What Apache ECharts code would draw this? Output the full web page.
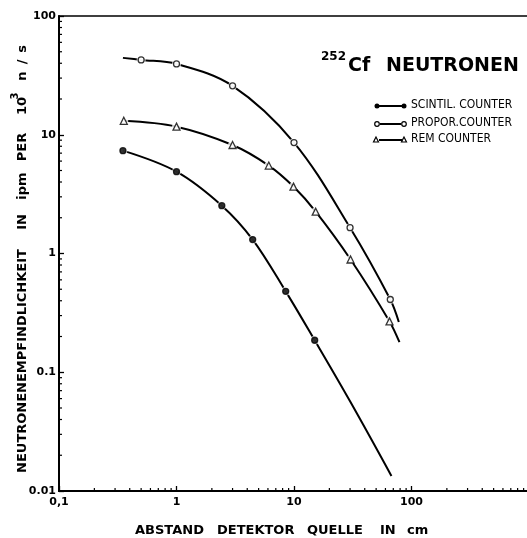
<!DOCTYPE html>
<html>
<head>
<meta charset="utf-8">
<script src="https://cdn.jsdelivr.net/npm/echarts@6/dist/echarts.min.js"></script>
<style>html,body{margin:0;padding:0;background:#fff;}#c{width:527px;height:538px;}</style>
</head>
<body>
<div id="c"></div>
<script>
// ---- data ----
const scintX = [0.35, 1.0, 2.43, 4.45, 8.5, 15.0, 30, 67.5];
const scintY = [7.35, 4.89, 2.53, 1.31, 0.48, 0.186, 0.057, 0.0134];
const scintMarked = [0, 1, 2, 3, 4, 5];

const proporX = [0.35, 0.5, 1.0, 3.0, 10, 30, 66, 78];
const proporY = [44.4, 42.7, 39.5, 25.8, 8.6, 1.65, 0.41, 0.265];
const proporMarked = [1, 2, 3, 4, 5, 6];

const remX = [0.356, 1.0, 3.0, 6.1, 9.9, 15.3, 30.3, 65, 79];
const remY = [13.1, 11.7, 8.2, 5.5, 3.66, 2.25, 0.89, 0.268, 0.179];
const remMarked = [0, 1, 2, 3, 4, 5, 6, 7];

const xTickValues = [0.1, 1, 10, 100];
const xTickLabels = ['0,1', '1', '10', '100'];
const yTickValues = [0.01, 0.1, 1, 10, 100];
const yTickLabels = ['0.01', '0.1', '1', '10', '100'];

const xMinor = [0.2,0.3,0.4,0.5,0.6,0.7,0.8,0.9, 2,3,4,5,6,7,8,9, 20,30,40,50,60,70,80,90, 200,300,400,500,600,700,800,900];
const yMinor = [0.02,0.03,0.04,0.05,0.06,0.07,0.08,0.09, 0.2,0.3,0.4,0.5,0.6,0.7,0.8,0.9, 2,3,4,5,6,7,8,9, 20,30,40,50,60,70,80,90];

const legendNames = ['SCINTIL. COUNTER', 'PROPOR.COUNTER', 'REM COUNTER'];

// ---- helpers ----
function zip(xs, ys) { return xs.map((x, i) => [x, ys[i]]); }
function pick(xs, ys, idx) { return idx.map(i => [xs[i], ys[i]]); }
function lbl(values, labels) {
  return function (v) {
    for (let i = 0; i < values.length; i++) {
      if (Math.abs(Math.log10(v) - Math.log10(values[i])) < 1e-6) return labels[i];
    }
    return '';
  };
}

const chart = echarts.init(document.getElementById('c'), null, { renderer: 'canvas' });
const black = '#000';
const fontFam = '"DejaVu Sans", "Liberation Sans", sans-serif';

function curve(xs, ys) {
  return {
    type: 'line', data: zip(xs, ys), smooth: 0.35,
    symbol: 'none', z: 2, silent: true,
    lineStyle: { color: black, width: 2 }
  };
}
function halo(xs, ys, idx) {
  return {
    type: 'scatter', data: pick(xs, ys, idx), symbol: 'circle', symbolSize: 9, z: 3, silent: true,
    itemStyle: { color: '#fff', borderWidth: 0 }
  };
}
function marks(xs, ys, idx, sym, filled) {
  return {
    type: 'scatter', data: pick(xs, ys, idx), symbol: sym,
    symbolSize: sym === 'triangle' ? 7 : 6, z: 4, silent: true,
    itemStyle: { color: filled ? black : '#fff', borderColor: black, borderWidth: 1.3 }
  };
}
function minorTicks(values, isX) {
  return {
    type: 'custom', z: 5, silent: true, clip: false,
    data: values.map(v => isX ? [v, 0.01] : [0.1, v]),
    renderItem: function (params, api) {
      const p = api.coord([api.value(0), api.value(1)]);
      const shape = isX
        ? { x1: p[0], y1: p[1], x2: p[0], y2: p[1] - 3 }
        : { x1: p[0], y1: p[1], x2: p[0] + 3, y2: p[1] };
      return { type: 'line', shape: shape, style: { stroke: black, lineWidth: 1.2 } };
    }
  };
}
function rot(text, x, y, size) {
  return { type: 'text', x: x, y: y, rotation: Math.PI / 2,
    style: { text: text, font: 'bold ' + size + 'px ' + fontFam, fill: black, align: 'center', verticalAlign: 'middle' } };
}

const option = {
  backgroundColor: '#fff',
  animation: false,
  grid: { left: 59, top: 16, width: 470, height: 475, outerBoundsMode: 'none', containLabel: false,
          show: true, borderColor: black, borderWidth: 1.5, backgroundColor: 'transparent' },
  xAxis: {
    type: 'log', logBase: 10, min: 0.1, max: 1000,
    axisLine: { lineStyle: { color: black, width: 2 } },
    axisTick: { inside: true, length: 5, lineStyle: { color: black, width: 1.3 } },
    axisLabel: { formatter: lbl(xTickValues, xTickLabels), color: black, fontSize: 11, fontWeight: 'bold', fontFamily: fontFam, margin: 6 },
    splitLine: { show: false }
  },
  yAxis: {
    type: 'log', logBase: 10, min: 0.01, max: 100,
    axisLine: { lineStyle: { color: black, width: 2 } },
    axisTick: { inside: true, length: 5, lineStyle: { color: black, width: 1.3 } },
    axisLabel: { formatter: lbl(yTickValues, yTickLabels), color: black, fontSize: 11, fontWeight: 'bold', fontFamily: fontFam, margin: 3 },
    splitLine: { show: false }
  },
  series: [
    curve(scintX, scintY), curve(proporX, proporY), curve(remX, remY),
    halo(scintX, scintY, scintMarked), halo(proporX, proporY, proporMarked), halo(remX, remY, remMarked),
    marks(scintX, scintY, scintMarked, 'circle', true),
    marks(proporX, proporY, proporMarked, 'circle', false),
    marks(remX, remY, remMarked, 'triangle', false),
    minorTicks(xMinor, true), minorTicks(yMinor, false)
  ],
  graphic: [
    // title
    { type: 'text', left: 321, top: 51, style: { text: '252', font: 'bold 12px ' + fontFam, fill: black } },
    { type: 'text', left: 348, top: 57, style: { text: 'Cf', font: 'bold 19px ' + fontFam, fill: black } },
    { type: 'text', left: 386, top: 57, style: { text: 'NEUTRONEN', font: 'bold 19px ' + fontFam, fill: black } },
    // legend row 1 (filled dots)
    { type: 'line', shape: { x1: 377, y1: 106, x2: 403, y2: 106 }, style: { stroke: black, lineWidth: 2 } },
    { type: 'circle', shape: { cx: 377, cy: 106, r: 2.5 }, style: { fill: black } },
    { type: 'circle', shape: { cx: 404, cy: 106, r: 2.5 }, style: { fill: black } },
    { type: 'text', left: 411, top: 99, style: { text: legendNames[0], font: '12px "DejaVu Sans Condensed", ' + fontFam, fill: black } },
    // legend row 2 (open circles)
    { type: 'line', shape: { x1: 380, y1: 124, x2: 401, y2: 124 }, style: { stroke: black, lineWidth: 2 } },
    { type: 'circle', shape: { cx: 377, cy: 124, r: 2.3 }, style: { fill: '#fff', stroke: black, lineWidth: 1.2 } },
    { type: 'circle', shape: { cx: 404, cy: 124, r: 2.3 }, style: { fill: '#fff', stroke: black, lineWidth: 1.2 } },
    { type: 'text', left: 411, top: 117, style: { text: legendNames[1], font: '12px "DejaVu Sans Condensed", ' + fontFam, fill: black } },
    // legend row 3 (open triangles)
    { type: 'line', shape: { x1: 379, y1: 140, x2: 402, y2: 140 }, style: { stroke: black, lineWidth: 2 } },
    { type: 'polygon', shape: { points: [[376, 137], [373.5, 142], [378.5, 142]] }, style: { fill: '#fff', stroke: black, lineWidth: 1.2 } },
    { type: 'polygon', shape: { points: [[404, 137], [401.5, 142], [406.5, 142]] }, style: { fill: '#fff', stroke: black, lineWidth: 1.2 } },
    { type: 'text', left: 411, top: 133, style: { text: legendNames[2], font: '12px "DejaVu Sans Condensed", ' + fontFam, fill: black } },
    // x-axis title
    { type: 'text', left: 135, top: 524, style: { text: 'ABSTAND', font: 'bold 13px ' + fontFam, fill: black } },
    { type: 'text', left: 217, top: 524, style: { text: 'DETEKTOR', font: 'bold 13px ' + fontFam, fill: black } },
    { type: 'text', left: 307, top: 524, style: { text: 'QUELLE', font: 'bold 13px ' + fontFam, fill: black } },
    { type: 'text', left: 380, top: 524, style: { text: 'IN', font: 'bold 13px ' + fontFam, fill: black } },
    { type: 'text', left: 407, top: 524, style: { text: 'cm', font: 'bold 13px ' + fontFam, fill: black } },
    // y-axis title (rotated pieces)
    rot('NEUTRONENEMPFINDLICHKEIT', 23, 361, 13),
    rot('IN', 23, 222, 13),
    rot('ipm', 23, 186, 13),
    rot('PER', 23, 147, 13),
    rot('10', 23, 106, 13),
    rot('3', 15, 96, 10),
    rot('n', 23, 76, 13),
    rot('/', 23, 62, 13),
    rot('s', 23, 49, 13)
  ]
};
chart.setOption(option);
</script>
</body>
</html>
